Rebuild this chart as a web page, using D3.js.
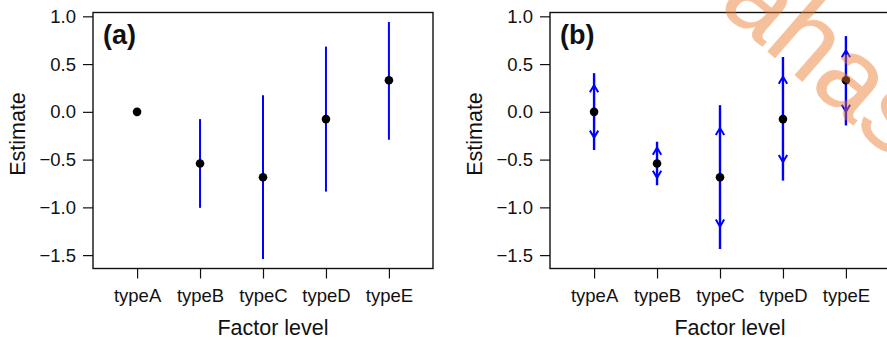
<!DOCTYPE html>
<html>
<head>
<meta charset="utf-8">
<script src="https://cdn.jsdelivr.net/npm/d3@7"></script>
<style>
  body { margin: 0; background: #fff; }
  svg { display: block; font-family: "Liberation Sans", Arial, Helvetica, sans-serif; }
  .axis text { font-size: 18.5px; fill: #111; }
  .axis line { stroke: #111; stroke-width: 1.2; }
</style>
</head>
<body>
<div id="chart"></div>
<script>
// data
var categories = ['typeA', 'typeB', 'typeC', 'typeD', 'typeE'];
var estimate   = [0, -0.54, -0.685, -0.076, 0.33];
// panel (a): interval ends
var ciLowA  = [0, -1.005, -1.541, -0.835, -0.292];
var ciHighA = [0, -0.076, 0.174, 0.683, 0.94];
// panel (b): line ends and arrow tips
var lineLowB  = [-0.40, -0.768, -1.436, -0.72, -0.142];
var lineHighB = [0.405, -0.313, 0.07, 0.574, 0.793];
var arrowLowB  = [-0.27, -0.69, -1.2, -0.525, 0.0];
var arrowHighB = [0.279, -0.375, -0.17, 0.368, 0.644];
var yTicks = [1.0, 0.5, 0.0, -0.5, -1.0, -1.5];

var width = 887, height = 340;
var svg = d3.select('#chart').append('svg')
  .attr('width', width)
  .attr('height', height);

var y = d3.scaleLinear().domain([-1.64, 1.04]).range([268.5, 12.5]);

function panel(left, label, drawMarks) {
  var x = d3.scaleLinear().domain([0.3, 5.7]).range([left, left + 340]);
  var g = svg.append('g');

  // box
  g.append('rect')
    .attr('x', x(0.3)).attr('y', y(1.04))
    .attr('width', x(5.7) - x(0.3)).attr('height', y(-1.64) - y(1.04))
    .attr('fill', 'none').attr('stroke', '#111').attr('stroke-width', 1.4);

  var yAxis = d3.axisLeft(y)
    .tickValues(yTicks)
    .tickSize(10)
    .tickPadding(7)
    .tickFormat(d3.format('.1f'));
  g.append('g')
    .attr('class', 'axis')
    .attr('transform', 'translate(' + x(0.3) + ',0)')
    .call(yAxis)
    .call(function(a) { a.select('.domain').remove(); });

  var xAxis = d3.axisBottom(x)
    .tickValues([1, 2, 3, 4, 5])
    .tickSize(10)
    .tickPadding(10.5)
    .tickFormat(function(d) { return categories[d - 1]; });
  g.append('g')
    .attr('class', 'axis')
    .attr('transform', 'translate(0,' + y(-1.64) + ')')
    .call(xAxis)
    .call(function(a) { a.select('.domain').remove(); });

  g.append('text')
    .attr('x', (x(0.3) + x(5.7)) / 2 + 10)
    .attr('y', 335)
    .attr('text-anchor', 'middle')
    .attr('font-size', 21.5)
    .attr('fill', '#111')
    .text('Factor level');

  g.append('text')
    .attr('transform', 'translate(' + (left - 68) + ',' + 134 + ') rotate(-90)')
    .attr('text-anchor', 'middle')
    .attr('font-size', 21.5)
    .attr('fill', '#111')
    .text('Estimate');

  g.append('text')
    .attr('x', left + 10)
    .attr('y', 44)
    .attr('font-size', 27)
    .attr('font-weight', 'bold')
    .attr('fill', '#111')
    .text(label);

  drawMarks(g, x);
}

function points(g, x) {
  g.selectAll('circle.pt')
    .data(estimate)
    .enter().append('circle')
    .attr('class', 'pt')
    .attr('cx', function(d, i) { return x(i + 1); })
    .attr('cy', function(d) { return y(d); })
    .attr('r', 4.3)
    .attr('fill', '#000');
}

panel(93, '(a)', function(g, x) {
  g.selectAll('line.ci')
    .data(categories)
    .enter().append('line')
    .attr('class', 'ci')
    .attr('x1', function(d, i) { return x(i + 1); })
    .attr('x2', function(d, i) { return x(i + 1); })
    .attr('y1', function(d, i) { return y(ciLowA[i]); })
    .attr('y2', function(d, i) { return y(ciHighA[i]); })
    .attr('stroke', '#0000ff')
    .attr('stroke-width', 2);
  points(g, x);
});

panel(550, '(b)', function(g, x) {
  g.selectAll('line.ci')
    .data(categories)
    .enter().append('line')
    .attr('class', 'ci')
    .attr('x1', function(d, i) { return x(i + 1); })
    .attr('x2', function(d, i) { return x(i + 1); })
    .attr('y1', function(d, i) { return y(lineLowB[i]); })
    .attr('y2', function(d, i) { return y(lineHighB[i]); })
    .attr('stroke', '#0000ff')
    .attr('stroke-width', 2.4);

  // chevron heads at arrow tips
  var heads = [];
  categories.forEach(function(c, i) {
    heads.push({i: i, v: arrowHighB[i], dir: -1});
    heads.push({i: i, v: arrowLowB[i], dir: 1});
  });
  g.selectAll('path.head')
    .data(heads)
    .enter().append('path')
    .attr('class', 'head')
    .attr('d', function(d) {
      var px = x(d.i + 1), py = y(d.v);
      return 'M' + (px - 4.2) + ',' + (py - d.dir * 7) +
             'L' + px + ',' + py +
             'L' + (px + 4.2) + ',' + (py - d.dir * 7);
    })
    .attr('fill', 'none')
    .attr('stroke', '#0000ff')
    .attr('stroke-width', 2);
  points(g, x);
});

// watermark over the top right corner
svg.append('text')
  .attr('transform', 'translate(717,7) rotate(41)')
  .attr('font-size', 108)
  .attr('fill', 'rgb(235,120,40)')
  .attr('stroke', 'rgb(235,120,40)')
  .attr('stroke-width', 0.8)
  .attr('opacity', 0.45)
  .text('ahas');
</script>
</body>
</html>
